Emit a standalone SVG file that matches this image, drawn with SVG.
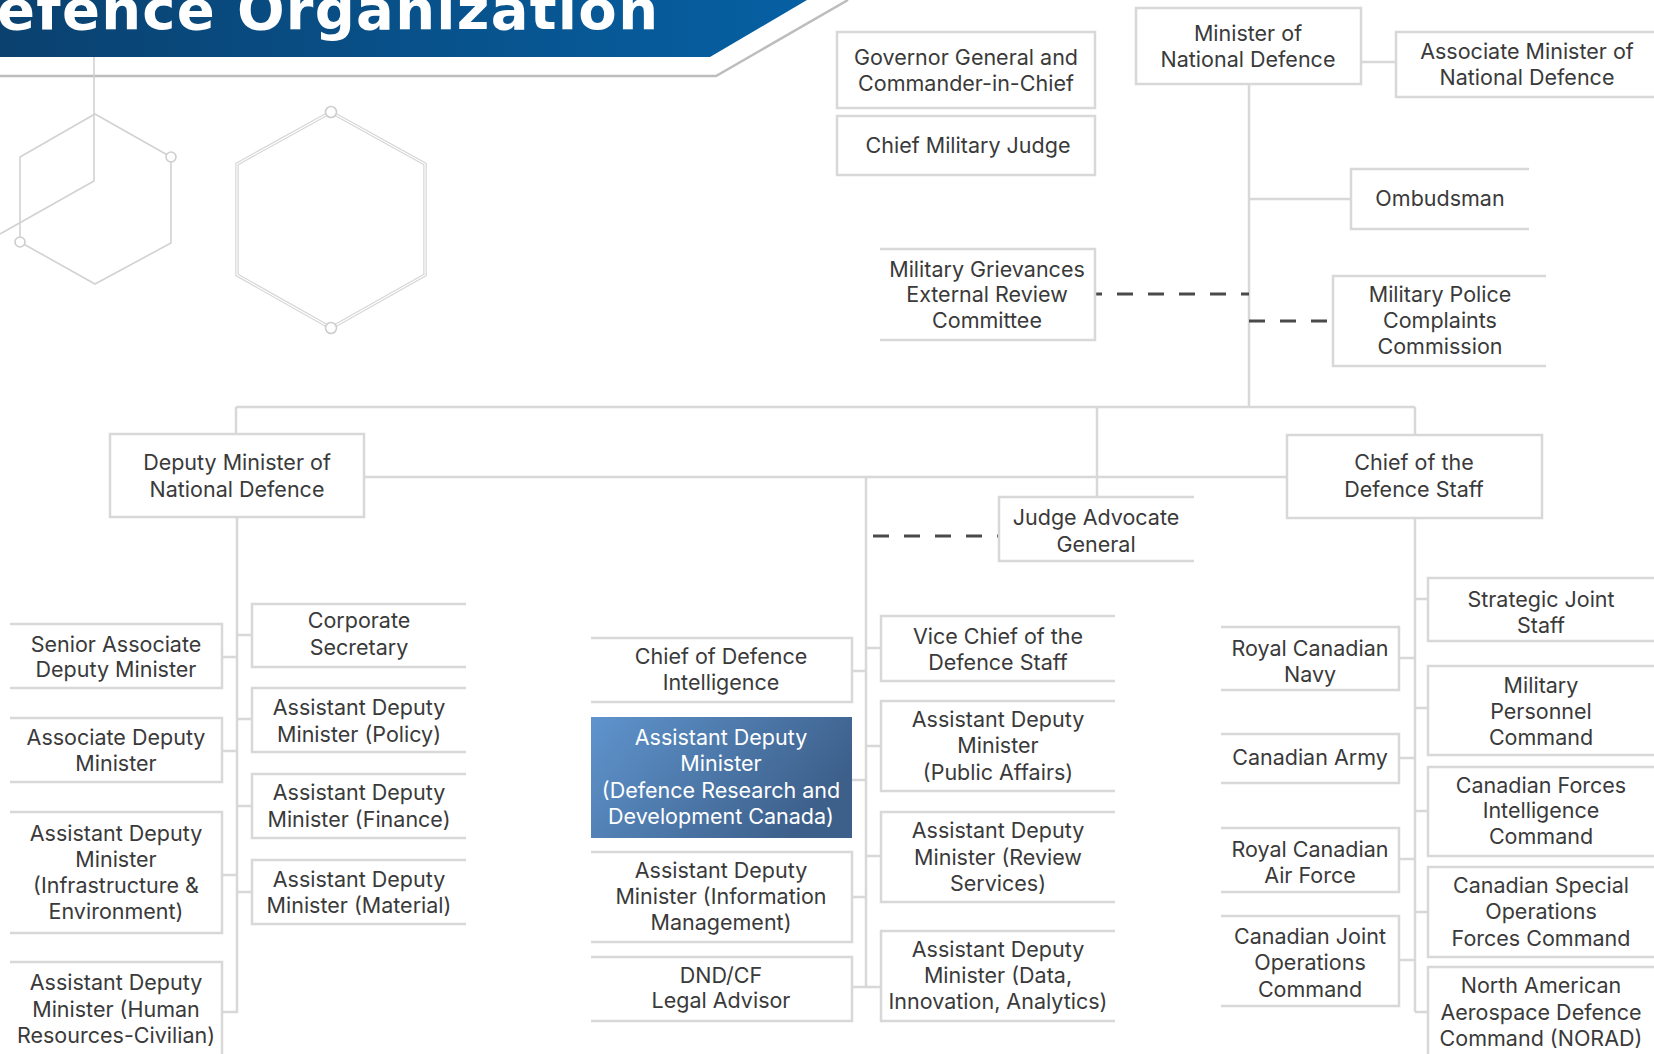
<svg xmlns="http://www.w3.org/2000/svg" width="1654" height="1054" viewBox="0 0 1654 1054">
  <style>
    .box { fill: #ffffff; stroke: #d8d8d8; stroke-width: 2.5; }
    .open { fill: none; stroke: #d8d8d8; stroke-width: 2.5; }
    .conn { fill: none; stroke: #d8d8d8; stroke-width: 2.5; }
    .dash { fill: none; stroke: #4a4a4a; stroke-width: 3; stroke-dasharray: 16 15; }
    .lbl { font-family: Inter, "Noto Sans", "Liberation Sans", sans-serif; font-size: 21.5px; fill: #3a3a3a; text-anchor: middle; }
    .inv { fill: #ffffff; }
    .deco { fill: none; stroke: #d2d2d2; stroke-width: 1.6; }
    .knob { fill: #ffffff; stroke: #cdcdcd; stroke-width: 1.6; }
  </style>
  <defs>
    <linearGradient id="bannerFill" x1="0" y1="0" x2="1" y2="0">
      <stop offset="0" stop-color="#0a416f"/>
      <stop offset="1" stop-color="#0660a3"/>
    </linearGradient>
    <linearGradient id="drdcFill" x1="0" y1="0" x2="1" y2="0.4">
      <stop offset="0" stop-color="#5f94cd"/>
      <stop offset="1" stop-color="#3d608b"/>
    </linearGradient>
  </defs>

  <rect width="1654" height="1054" fill="#ffffff"/>

  <!-- title banner -->
  <g id="banner">
    <polygon points="0,0 807,0 710,57 0,57" fill="url(#bannerFill)"/>
    <polyline points="0,76 716,76 848,0" fill="none" stroke="#bdbdbd" stroke-width="2.5"/>
    <text x="-3" y="29" textLength="661" lengthAdjust="spacing" font-family="'DejaVu Sans', sans-serif" font-weight="bold" font-size="56" fill="#ffffff">efence Organization</text>
  </g>

  <!-- decorative hexagons -->
  <g id="decoration">
    <polyline class="deco" points="94,57 94,181 0,234"/>
    <polygon class="deco" points="95,114 171,157 171,243 95,284 20,242 20,157"/>
    <circle class="knob" cx="171" cy="157" r="5"/>
    <circle class="knob" cx="20" cy="242" r="5"/>
    <polygon points="331,112 425,164 425,275 331,328 237,275 237,164" fill="none" stroke="#d6d6d6" stroke-width="3.5"/>
    <polygon points="331,112 425,164 425,275 331,328 237,275 237,164" fill="none" stroke="#ffffff" stroke-width="1.1"/>
    <circle class="knob" cx="331" cy="112" r="5.5"/>
    <circle class="knob" cx="331" cy="328" r="5.5"/>
  </g>

  <!-- reporting lines -->
  <g id="connectors">
    <path class="conn" d="M1361,62 H1396"/>
    <path class="conn" d="M1249,84 V407"/>
    <path class="conn" d="M1249,199 H1351"/>
    <path class="dash" d="M1095,294 H1249" stroke-dashoffset="9"/>
    <path class="dash" d="M1249,321 H1333"/>
    <path class="conn" d="M236,407 H1415"/>
    <path class="conn" d="M236,407 V434"/>
    <path class="conn" d="M1097,407 V497"/>
    <path class="conn" d="M1415,407 V435"/>
    <path class="conn" d="M364,477 H1287"/>
    <path class="dash" d="M873,536 H999"/>
    <!-- deputy minister branch -->
    <path class="conn" d="M237,517 V1013"/>
    <path class="conn" d="M222,657 H237 M222,751 H237 M222,875 H237 M222,1012 H237"/>
    <path class="conn" d="M237,635 H252 M237,719 H252 M237,806 H252 M237,892 H252"/>
    <!-- central branch -->
    <path class="conn" d="M866,477 V987"/>
    <path class="conn" d="M852,671 H866 M852,780 H866 M852,897 H866 M852,987 H866"/>
    <path class="conn" d="M866,648 H881 M866,746 H881 M866,856 H881 M866,987 H881"/>
    <!-- chief of the defence staff branch -->
    <path class="conn" d="M1415,518 V1012"/>
    <path class="conn" d="M1399,658 H1415 M1399,758 H1415 M1399,859 H1415 M1399,960 H1415"/>
    <path class="conn" d="M1415,599 H1428 M1415,708 H1428 M1415,811 H1428 M1415,912 H1428 M1415,1012 H1428"/>
  </g>

  <!-- top level -->
  <g id="governor-general">
    <rect class="box" x="837" y="32" width="258" height="76"/>
    <text class="lbl"><tspan x="966" y="65">Governor General and</tspan><tspan x="966" y="91">Commander-in-Chief</tspan></text>
  </g>
  <g id="chief-military-judge">
    <rect class="box" x="837" y="116" width="258" height="59"/>
    <text class="lbl" x="968" y="153">Chief Military Judge</text>
  </g>
  <g id="minister">
    <rect class="box" x="1136" y="8" width="225" height="76"/>
    <text class="lbl"><tspan x="1248" y="41">Minister of</tspan><tspan x="1248" y="67">National Defence</tspan></text>
  </g>
  <g id="associate-minister">
    <path class="open" d="M1660,32 H1396 V97 H1660"/>
    <text class="lbl"><tspan x="1527" y="59">Associate Minister of</tspan><tspan x="1527" y="85">National Defence</tspan></text>
  </g>
  <g id="ombudsman">
    <path class="open" d="M1529,169 H1351 V229 H1529"/>
    <text class="lbl" x="1440" y="206">Ombudsman</text>
  </g>
  <g id="mgerc">
    <path class="open" d="M880,249 H1095 V340 H880"/>
    <text class="lbl"><tspan x="987" y="277">Military Grievances</tspan><tspan x="987" y="302">External Review</tspan><tspan x="987" y="328">Committee</tspan></text>
  </g>
  <g id="mpcc">
    <path class="open" d="M1546,276 H1333 V366 H1546"/>
    <text class="lbl"><tspan x="1440" y="302">Military Police</tspan><tspan x="1440" y="328">Complaints</tspan><tspan x="1440" y="354">Commission</tspan></text>
  </g>

  <!-- second level -->
  <g id="deputy-minister">
    <rect class="box" x="110" y="434" width="254" height="83"/>
    <text class="lbl"><tspan x="237" y="470">Deputy Minister of</tspan><tspan x="237" y="497">National Defence</tspan></text>
  </g>
  <g id="cds">
    <rect class="box" x="1287" y="435" width="255" height="83"/>
    <text class="lbl"><tspan x="1414" y="470">Chief of the</tspan><tspan x="1414" y="497">Defence Staff</tspan></text>
  </g>
  <g id="jag">
    <path class="open" d="M1194,497 H999 V561 H1194"/>
    <text class="lbl"><tspan x="1096" y="525">Judge Advocate</tspan><tspan x="1096" y="552">General</tspan></text>
  </g>

  <!-- deputy minister: left column -->
  <g id="sadm">
    <path class="open" d="M10,624 H222 V688 H10"/>
    <text class="lbl"><tspan x="116" y="652">Senior Associate</tspan><tspan x="116" y="677">Deputy Minister</tspan></text>
  </g>
  <g id="assoc-dm">
    <path class="open" d="M10,718 H222 V782 H10"/>
    <text class="lbl"><tspan x="116" y="745">Associate Deputy</tspan><tspan x="116" y="771">Minister</tspan></text>
  </g>
  <g id="adm-ie">
    <path class="open" d="M10,812 H222 V933 H10"/>
    <text class="lbl"><tspan x="116" y="841">Assistant Deputy</tspan><tspan x="116" y="867">Minister</tspan><tspan x="116" y="893">(Infrastructure &amp;</tspan><tspan x="116" y="919">Environment)</tspan></text>
  </g>
  <g id="adm-hrciv">
    <path class="open" d="M10,962 H222 V1060"/>
    <text class="lbl"><tspan x="116" y="990">Assistant Deputy</tspan><tspan x="116" y="1017">Minister (Human</tspan><tspan x="116" y="1043">Resources-Civilian)</tspan></text>
  </g>

  <!-- deputy minister: right column -->
  <g id="corp-sec">
    <path class="open" d="M466,604 H252 V667 H466"/>
    <text class="lbl"><tspan x="359" y="628">Corporate</tspan><tspan x="359" y="655">Secretary</tspan></text>
  </g>
  <g id="adm-pol">
    <path class="open" d="M466,688 H252 V752 H466"/>
    <text class="lbl"><tspan x="359" y="715">Assistant Deputy</tspan><tspan x="359" y="742">Minister (Policy)</tspan></text>
  </g>
  <g id="adm-fin">
    <path class="open" d="M466,774 H252 V838 H466"/>
    <text class="lbl"><tspan x="359" y="800">Assistant Deputy</tspan><tspan x="359" y="827">Minister (Finance)</tspan></text>
  </g>
  <g id="adm-mat">
    <path class="open" d="M466,860 H252 V924 H466"/>
    <text class="lbl"><tspan x="359" y="887">Assistant Deputy</tspan><tspan x="359" y="913">Minister (Material)</tspan></text>
  </g>

  <!-- central: left column -->
  <g id="cdi">
    <path class="open" d="M591,638 H852 V702 H591"/>
    <text class="lbl"><tspan x="721" y="664">Chief of Defence</tspan><tspan x="721" y="690">Intelligence</tspan></text>
  </g>
  <g id="adm-drdc">
    <rect x="591" y="717" width="261" height="121" fill="url(#drdcFill)"/>
    <text class="lbl inv"><tspan x="721" y="745">Assistant Deputy</tspan><tspan x="721" y="771">Minister</tspan><tspan x="721" y="798">(Defence Research and</tspan><tspan x="721" y="824">Development Canada)</tspan></text>
  </g>
  <g id="adm-im">
    <path class="open" d="M591,852 H852 V942 H591"/>
    <text class="lbl"><tspan x="721" y="878">Assistant Deputy</tspan><tspan x="721" y="904">Minister (Information</tspan><tspan x="721" y="930">Management)</tspan></text>
  </g>
  <g id="legal-advisor">
    <path class="open" d="M591,957 H852 V1021 H591"/>
    <text class="lbl"><tspan x="721" y="983">DND/CF</tspan><tspan x="721" y="1008">Legal Advisor</tspan></text>
  </g>

  <!-- central: right column -->
  <g id="vcds">
    <path class="open" d="M1115,616 H881 V681 H1115"/>
    <text class="lbl"><tspan x="998" y="644">Vice Chief of the</tspan><tspan x="998" y="670">Defence Staff</tspan></text>
  </g>
  <g id="adm-pa">
    <path class="open" d="M1115,701 H881 V791 H1115"/>
    <text class="lbl"><tspan x="998" y="727">Assistant Deputy</tspan><tspan x="998" y="753">Minister</tspan><tspan x="998" y="780">(Public Affairs)</tspan></text>
  </g>
  <g id="adm-rs">
    <path class="open" d="M1115,812 H881 V902 H1115"/>
    <text class="lbl"><tspan x="998" y="838">Assistant Deputy</tspan><tspan x="998" y="865">Minister (Review</tspan><tspan x="998" y="891">Services)</tspan></text>
  </g>
  <g id="adm-dia">
    <path class="open" d="M1115,931 H881 V1021 H1115"/>
    <text class="lbl"><tspan x="998" y="957">Assistant Deputy</tspan><tspan x="998" y="983">Minister (Data,</tspan><tspan x="998" y="1009">Innovation, Analytics)</tspan></text>
  </g>

  <!-- chief of the defence staff: left column -->
  <g id="rcn">
    <path class="open" d="M1221,627 H1399 V690 H1221"/>
    <text class="lbl"><tspan x="1310" y="656">Royal Canadian</tspan><tspan x="1310" y="682">Navy</tspan></text>
  </g>
  <g id="army">
    <path class="open" d="M1221,734 H1399 V783 H1221"/>
    <text class="lbl" x="1310" y="765">Canadian Army</text>
  </g>
  <g id="rcaf">
    <path class="open" d="M1221,828 H1399 V892 H1221"/>
    <text class="lbl"><tspan x="1310" y="857">Royal Canadian</tspan><tspan x="1310" y="883">Air Force</tspan></text>
  </g>
  <g id="cjoc">
    <path class="open" d="M1221,916 H1399 V1006 H1221"/>
    <text class="lbl"><tspan x="1310" y="944">Canadian Joint</tspan><tspan x="1310" y="970">Operations</tspan><tspan x="1310" y="997">Command</tspan></text>
  </g>

  <!-- chief of the defence staff: right column -->
  <g id="sjs">
    <path class="open" d="M1656,578 H1428 V641 H1656"/>
    <text class="lbl"><tspan x="1541" y="607">Strategic Joint</tspan><tspan x="1541" y="633">Staff</tspan></text>
  </g>
  <g id="milpers">
    <path class="open" d="M1656,666 H1428 V755 H1656"/>
    <text class="lbl"><tspan x="1541" y="693">Military</tspan><tspan x="1541" y="719">Personnel</tspan><tspan x="1541" y="745">Command</tspan></text>
  </g>
  <g id="cfintcom">
    <path class="open" d="M1656,767 H1428 V856 H1656"/>
    <text class="lbl"><tspan x="1541" y="793">Canadian Forces</tspan><tspan x="1541" y="818">Intelligence</tspan><tspan x="1541" y="844">Command</tspan></text>
  </g>
  <g id="cansofcom">
    <path class="open" d="M1656,867 H1428 V957 H1656"/>
    <text class="lbl"><tspan x="1541" y="893">Canadian Special</tspan><tspan x="1541" y="919">Operations</tspan><tspan x="1541" y="946">Forces Command</tspan></text>
  </g>
  <g id="norad">
    <path class="open" d="M1656,967 H1428 V1060"/>
    <text class="lbl"><tspan x="1541" y="993">North American</tspan><tspan x="1541" y="1020">Aerospace Defence</tspan><tspan x="1541" y="1046">Command (NORAD)</tspan></text>
  </g>
</svg>
